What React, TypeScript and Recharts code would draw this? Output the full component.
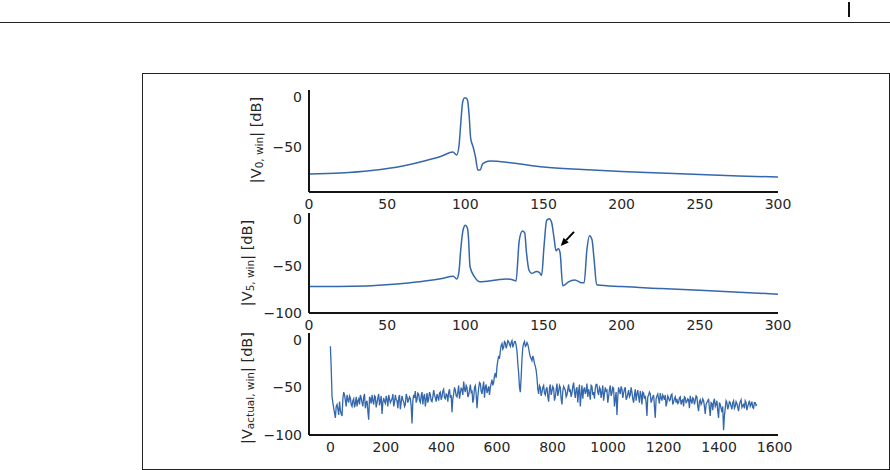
import React from 'react';
import { LineChart, Line, XAxis, YAxis, ReferenceLine } from 'recharts';

const FONT = '"DejaVu Sans", sans-serif';
const INK = '#262626';
const BLUE = '#3467ab';

// |V_0,win| — single windowed tone
const v0Freq = [0, 20, 40, 60, 75, 85, 92, 94.5, 96, 97, 98.3, 99.5, 100.5, 101.5, 102.5, 103.4, 105, 106.5, 108, 109.5, 111, 113, 116, 130, 150, 175, 200, 225, 250, 275, 300];
const v0Db = [-77, -76, -73.5, -69, -63.5, -59, -55, -58, -48, -28, -5, -1, -1, -4, -20, -41, -50, -60, -73, -73, -67, -65, -64, -66, -70, -72.5, -74.5, -76, -77.5, -79, -80];

// |V_5,win| — five tones
const v5Freq = [0, 40, 70, 85, 92.3, 94.5, 96, 97, 98.7, 100, 101.3, 102, 103, 106, 109.4, 120, 126, 130.6, 132.4, 134.5, 136.5, 138, 139, 140.8, 142.5, 145.6, 147.3, 148.8, 150.3, 152, 153.7, 155.2, 156.7, 158, 159.5, 160.6, 162.3, 163.8, 166, 170, 174.5, 176, 177.7, 179.4, 181, 182.4, 184, 200, 225, 250, 275, 300];
const v5Db = [-72, -71, -67, -63.5, -61, -64, -55, -34, -11, -7, -10, -20, -51, -62, -67, -65, -64, -65, -66, -23, -13, -15, -34, -55, -58, -56, -57, -60, -30, -2, 0, -4, -20, -34, -32, -36, -71, -70, -67, -65, -68, -68, -34, -18, -22, -44, -70, -72, -74, -76, -78, -80];

// |V_actual,win| — measured spectrum, bins 0, 6, 12, ...
const actualBinStep = 6;
const actualDbEven = [
  -7, -60, -72, -82, -68, -79, -74, -80, -55, -64, -58, -66, -61, -70, -62, -67,
  -70, -62, -58, -66, -60, -72, -64, -84, -62, -58, -68, -60, -66, -57, -64, -78,
  -61, -67, -63, -58, -66, -62, -70, -58, -64, -61, -73, -59, -65, -68, -60, -63,
  -62, -88, -58, -54, -63, -57, -66, -55, -60, -70, -56, -62, -58, -65, -53, -61,
  -57, -64, -55, -60, -52, -62, -58, -55, -61, -76, -57, -53, -60, -48, -56, -52,
  -44, -55, -50, -58, -47, -53, -62, -48, -72, -51, -46, -57, -44, -50, -56, -49,
  -50, -42, -45, -35, -28, -17, -12, -4, -8, -3, -6, -2, -7, -1, -5, -2,
  -12, -35, -55, -20, -4, -7, -3, -9, -18, -22, -20, -28, -40, -57, -50, -55,
  -48, -58, -50, -65, -47, -54, -51, -60, -46, -55, -50, -68, -49, -53, -58, -47,
  -52, -56, -45, -61, -50, -54, -70, -48, -53, -57, -46, -52, -63, -49, -55, -51,
  -47, -58, -52, -55, -64, -50, -53, -60, -48, -56, -51, -62, -79, -50, -57, -52,
  -56, -50, -61, -53, -58, -55, -66, -52, -57, -60, -54, -68, -56, -59, -80, -58,
  -57, -63, -58, -82, -59, -62, -56, -64, -60, -58, -66, -61, -63, -57, -65, -60,
  -62, -66, -60, -64, -70, -61, -65, -63, -59, -67, -62, -64, -60, -75, -63, -66,
  -64, -78, -66, -62, -80, -67, -65, -70, -64, -82, -68, -76, -95, -72, -66, -70,
  -66, -73, -64, -70, -67, -75, -65, -71, -68, -64, -74, -67, -70, -65, -72, -66,
  -68,
];
// bins 3, 9, 15, ...
const actualDbOdd = [
  -30, -66, -77, -70, -73, -65, -78, -62, -58, -70, -63, -59, -68, -64, -71, -60,
  -64, -68, -61, -70, -57, -66, -75, -60, -67, -64, -59, -71, -61, -69, -59, -66,
  -65, -59, -70, -62, -64, -57, -66, -63, -72, -58, -66, -63, -70, -57, -66, -60,
  -70, -64, -61, -66, -56, -64, -59, -68, -57, -63, -66, -55, -64, -60, -58, -65,
  -60, -56, -63, -54, -61, -57, -65, -52, -58, -62, -50, -59, -55, -62, -51, -58,
  -52, -48, -60, -53, -55, -66, -50, -57, -60, -45, -54, -50, -61, -47, -53, -58,
  -46, -48, -38, -40, -22, -20, -6, -10, -2, -9, -1, -5, -3, -8, -2, -6,
  -25, -50, -40, -8, -2, -6, -5, -14, -20, -17, -25, -32, -52, -48, -59, -50,
  -56, -52, -60, -51, -58, -49, -64, -53, -59, -48, -62, -54, -51, -60, -52, -55,
  -60, -49, -55, -52, -66, -47, -58, -62, -50, -54, -60, -56, -48, -58, -62, -47,
  -55, -50, -61, -48, -57, -54, -66, -52, -59, -50, -70, -55, -60, -54, -49, -61,
  -52, -63, -57, -60, -50, -62, -58, -64, -53, -66, -58, -55, -62, -66, -60, -55,
  -66, -60, -70, -62, -57, -67, -61, -58, -63, -70, -59, -64, -58, -68, -62, -66,
  -67, -61, -68, -63, -60, -66, -62, -72, -64, -61, -68, -59, -70, -65, -68, -62,
  -70, -68, -64, -72, -66, -74, -62, -68, -75, -66, -72, -70, -80, -64, -73, -65,
  -70, -66, -72, -65, -71, -68, -63, -69, -72, -66, -70, -64, -68, -71, -66, -69,
];

const freqTicks = [0, 50, 100, 150, 200, 250, 300];
const binTicks = [0, 200, 400, 600, 800, 1000, 1200, 1400, 1600];
const dbTicksShort = [0, -50];
const dbTicks = [0, -50, -100];

const v0Data = v0Freq.map((f, i) => ({ f, db: v0Db[i] }));
const v5Data = v5Freq.map((f, i) => ({ f, db: v5Db[i] }));
const actualData: { f: number; db: number }[] = [];
actualDbEven.forEach((db, i) => {
  actualData.push({ f: i * actualBinStep, db });
  if (i < actualDbOdd.length) actualData.push({ f: i * actualBinStep + actualBinStep / 2, db: actualDbOdd[i] });
});

const tickStyle = { fill: INK, fontSize: 14, fontFamily: FONT };
const spine = { stroke: '#141414', strokeWidth: 2 };
const minus = (v: number) => String(v).replace('-', '\u2212');

const AxisTitle = (props: any) => {
  const vb = props.viewBox || { x: 0, y: 0, width: 79, height: 100 };
  const cx = vb.x + props.dx;
  const cy = vb.y + vb.height / 2 + (props.dy || 0);
  return (
    <text
      x={cx}
      y={cy}
      transform={`rotate(-90 ${cx} ${cy})`}
      textAnchor="middle"
      dominantBaseline="central"
      fill={INK}
      fontFamily={FONT}
      fontSize={14.5}
    >
      <tspan>|V</tspan>
      <tspan fontSize={10.5} dy={3}>{props.sub}</tspan>
      <tspan dy={-3}>| [dB]</tspan>
    </text>
  );
};

const Arrow = (props: any) => {
  const { x1, y1, x2, y2 } = props;
  const ang = Math.atan2(y2 - y1, x2 - x1);
  const len = 8;
  const half = 3.5;
  const bx = x2 - len * Math.cos(ang);
  const by = y2 - len * Math.sin(ang);
  const px = -Math.sin(ang) * half;
  const py = Math.cos(ang) * half;
  return (
    <g>
      <line x1={x1} y1={y1} x2={bx} y2={by} stroke="#000" strokeWidth={2} />
      <polygon points={`${x2},${y2} ${bx + px},${by + py} ${bx - px},${by - py}`} fill="#000" />
    </g>
  );
};

const Panel = ({ top, plotH, data, domainX, ticksX, domainY, ticksY, sub, titleDx, titleDy, strokeWidth, curve, children }: any) => (
  <div style={{ position: 'absolute', left: 230, top }}>
    <LineChart width={570} height={10 + plotH + 25} data={data} margin={{ top: 10, right: 22, bottom: 0, left: 0 }}>
      <XAxis
        dataKey="f"
        type="number"
        domain={domainX}
        ticks={ticksX}
        interval={0}
        allowDataOverflow
        tickLine={false}
        tickSize={0}
        tickMargin={7}
        axisLine={spine}
        tick={tickStyle}
        height={25}
      />
      <YAxis
        type="number"
        domain={domainY}
        ticks={ticksY}
        interval={0}
        allowDataOverflow
        tickLine={false}
        tickSize={0}
        tickMargin={7}
        axisLine={spine}
        tick={tickStyle}
        tickFormatter={minus}
        width={79}
        label={<AxisTitle sub={sub} dx={titleDx} dy={titleDy} />}
      />
      <Line type={curve} dataKey="db" stroke={BLUE} strokeWidth={strokeWidth} dot={false} isAnimationActive={false} />
      {children}
    </LineChart>
  </div>
);

export default function App() {
  return (
    <div style={{ position: 'fixed', left: 0, top: 0, width: 890, height: 470, background: '#fff', overflow: 'hidden' }}>
      <div style={{ position: 'absolute', left: 0, top: 22, width: 890, borderTop: '1.5px solid #222' }} />
      <div style={{ position: 'absolute', left: 848, top: 2, width: 2, height: 15, background: '#111' }} />
      <div
        style={{
          position: 'absolute',
          left: 142,
          top: 73,
          width: 748,
          height: 397,
          border: '1px solid #222',
          boxSizing: 'border-box',
        }}
      />
      <Panel
        top={80}
        plotH={102}
        data={v0Data}
        domainX={[0, 300]}
        ticksX={freqTicks}
        domainY={[-95, 7]}
        ticksY={dbTicksShort}
        sub="0, win"
        titleDx={26}
        titleDy={-1}
        strokeWidth={1.5}
        curve="monotoneX"
      />
      <Panel
        top={203}
        plotH={100}
        data={v5Data}
        domainX={[0, 300]}
        ticksX={freqTicks}
        domainY={[-100, 6]}
        ticksY={dbTicks}
        sub="5, win"
        titleDx={17}
        titleDy={0}
        strokeWidth={1.5}
        curve="monotoneX"
      >
        <ReferenceLine segment={[{ x: 169.5, y: -14 }, { x: 161, y: -29 }]} shape={Arrow} ifOverflow="visible" />
      </Panel>
      <Panel
        top={323}
        plotH={102}
        data={actualData}
        domainX={[-77, 1612]}
        ticksX={binTicks}
        domainY={[-100, 7]}
        ticksY={dbTicks}
        sub="actual, win"
        titleDx={17}
        titleDy={4}
        strokeWidth={1.3}
        curve="linear"
      />
    </div>
  );
}
